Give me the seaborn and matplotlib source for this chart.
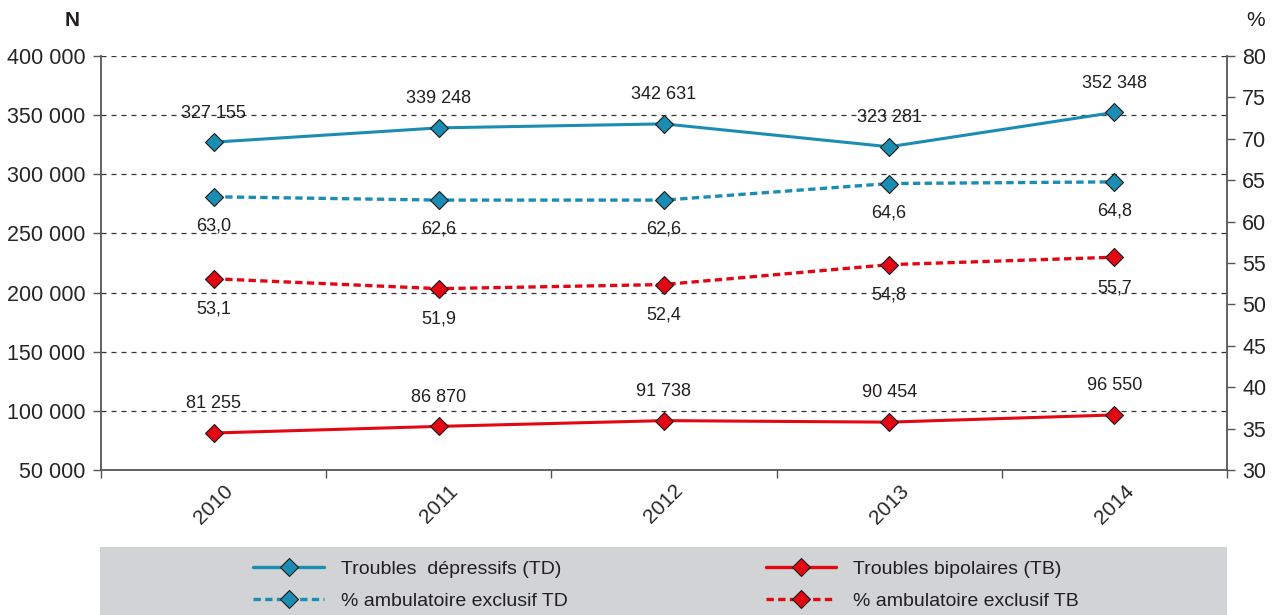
import numpy as np
import pandas as pd
import matplotlib.pyplot as plt
import matplotlib.lines as mlines
from matplotlib.patches import Rectangle
import seaborn as sns

# data
years = [2010, 2011, 2012, 2013, 2014]
n_td = [327155, 339248, 342631, 323281, 352348]
n_tb = [81255, 86870, 91738, 90454, 96550]
pct_td = [63.0, 62.6, 62.6, 64.6, 64.8]
pct_tb = [53.1, 51.9, 52.4, 54.8, 55.7]

labels = ["Troubles  dépressifs (TD)", "Troubles bipolaires (TB)",
          "% ambulatoire exclusif TD", "% ambulatoire exclusif TB"]

BLUE = "#1b8db3"
RED = "#e30613"
GRAY = "#d1d3d4"
TXT = "#231f20"

sns.set_theme(style="white")
plt.rcParams["font.family"] = ["Liberation Sans Narrow", "Liberation Sans", "DejaVu Sans"]
plt.rcParams["text.color"] = TXT

df = pd.DataFrame({"year": years, "n_td": n_td, "n_tb": n_tb,
                   "pct_td": pct_td, "pct_tb": pct_tb})

fig = plt.figure(figsize=(12.72, 6.15), dpi=100)
ax = fig.add_axes([0.0794, 0.2358, 0.8852, 0.6731])
ax2 = ax.twinx()

dash = (0, (2.2, 1.3))
mk = dict(marker="D", markersize=9, markeredgecolor="#1a1a1a", markeredgewidth=0.8)
sns.lineplot(data=df, x="year", y="n_td", ax=ax, color=BLUE, lw=2.2, **mk)
sns.lineplot(data=df, x="year", y="n_tb", ax=ax, color=RED, lw=2.2, **mk)
sns.lineplot(data=df, x="year", y="pct_td", ax=ax2, color=BLUE, lw=2.4,
             linestyle=dash, **mk)
sns.lineplot(data=df, x="year", y="pct_tb", ax=ax2, color=RED, lw=2.4,
             linestyle=dash, **mk)


def fmt_n(v):
    return f"{v:,}".replace(",", " ")


def fmt_p(v):
    return f"{v:.1f}".replace(".", ",")


# value labels: counts above, percentages below
for x, a, b in zip(years, n_td, n_tb):
    ax.annotate(fmt_n(a), (x, a), xytext=(0, 21), textcoords="offset points",
                ha="center", va="center", fontsize=13)
    ax.annotate(fmt_n(b), (x, b), xytext=(0, 21), textcoords="offset points",
                ha="center", va="center", fontsize=13)
for x, a, b in zip(years, pct_td, pct_tb):
    ax2.annotate(fmt_p(a), (x, a), xytext=(0, -21), textcoords="offset points",
                 ha="center", va="center", fontsize=13)
    ax2.annotate(fmt_p(b), (x, b), xytext=(0, -22), textcoords="offset points",
                 ha="center", va="center", fontsize=13)

ax.set_xlim(2009.5, 2014.5)
ax.set_ylim(50000, 400000)
ax2.set_ylim(30, 80)
ax.set_yticks(np.arange(50000, 400001, 50000))
ax.set_yticklabels([fmt_n(v) for v in range(50000, 400001, 50000)])
ax2.set_yticks(np.arange(30, 81, 5))

ax.set_xticks(years)
ax.set_xticklabels([str(y) for y in years], rotation=45, ha="center", fontsize=15)
ax.set_xticks(np.arange(2009.5, 2015, 1), minor=True)
ax.tick_params(axis="x", which="major", length=0, pad=8)
ax.tick_params(axis="x", which="minor", length=6, width=1, color="#555555", direction="out", bottom=True)
ax.tick_params(axis="y", length=6, width=1, color="#555555", direction="out", labelsize=15.5, pad=5, left=True)
ax2.tick_params(axis="y", length=6, width=1, color="#555555", direction="out", labelsize=15.5, pad=5, right=True)
ax.set_xlabel("")
ax.set_ylabel("")
ax2.set_ylabel("")

for a in (ax, ax2):
    for side in ("left", "right", "bottom"):
        a.spines[side].set_color("#555555")
        a.spines[side].set_linewidth(1.3)
    a.spines["top"].set_visible(False)
ax.spines["right"].set_visible(False)
ax2.spines["left"].set_visible(False)
ax2.spines["bottom"].set_visible(False)

for v in range(100000, 400001, 50000):
    ax.axhline(v, color="#333333", lw=0.9, ls=(0, (4, 4)), zorder=0)

fig.text(72 / 1272, 1 - 20 / 615, "N", fontsize=15, fontweight="bold", ha="center", va="center")
fig.text(1256 / 1272, 1 - 20 / 615, "%", fontsize=15, ha="center", va="center")

# legend band
fig.patches.append(Rectangle((100 / 1272, 0), 1127 / 1272, 68 / 615,
                             transform=fig.transFigure, facecolor=GRAY,
                             edgecolor="none", zorder=0))


def handle(color, ls):
    return mlines.Line2D([], [], color=color, lw=2.4, ls=ls, **mk)


h1 = [handle(BLUE, "-"), handle(BLUE, dash)]
h2 = [handle(RED, "-"), handle(RED, dash)]
kw = dict(frameon=False, fontsize=14, handlelength=3.6, handletextpad=0.9,
          labelspacing=0.75, loc="center left")
leg1 = fig.legend(h1, [labels[0], labels[2]], bbox_to_anchor=(236 / 1272, 0.049), **kw)
leg2 = fig.legend(h2, [labels[1], labels[3]], bbox_to_anchor=(748 / 1272, 0.049), **kw)

fig.savefig("out.png", dpi=100)
